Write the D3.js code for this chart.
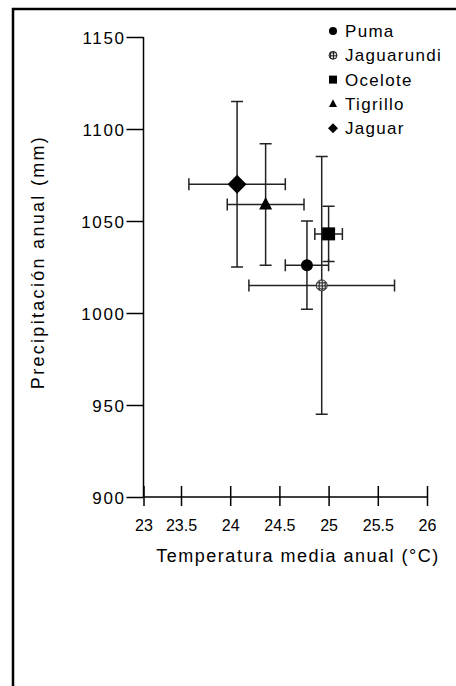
<!DOCTYPE html>
<html>
<meta charset="utf-8">
<head>
    <title>Temperatura vs precipitación</title>
</head>
<style>
    body { margin: 0; background: #fff; }
    text { font-family: "Liberation Sans", Arial, sans-serif; fill: #000; }
</style>
<script src="https://d3js.org/d3.v7.min.js"></script>
<body>
<div id="chart"></div>
<script>

// species and their values
var species = ["Puma", "Jaguarundi", "Ocelote", "Tigrillo", "Jaguar"]
var temp    = [24.78, 24.93, 25.00, 24.36, 24.07]
var tempErr = [0.22, 0.74, 0.14, 0.39, 0.49]
var prec    = [1026, 1015, 1043, 1059, 1070]
var precErr = [24, 70, 15, 33, 45]
var symbols = ["circle", "hatch", "square", "triangle", "diamond"]

var xTicks = [23, 23.5, 24, 24.5, 25, 25.5, 26]
var yTicks = [900, 950, 1000, 1050, 1100, 1150]

var W = 456, H = 686

var svg = d3.select("#chart")
  .append("svg")
  .attr("width", W)
  .attr("height", H)

// pattern for jaguarundi marker
var pat = svg.append("defs").append("pattern")
  .attr("id", "hatch")
  .attr("patternUnits", "userSpaceOnUse")
  .attr("width", 3).attr("height", 3)
pat.append("rect").attr("width", 3).attr("height", 3).attr("fill", "#ddd")
pat.append("path").attr("d", "M0,0.5H3M0.5,0V3")
  .attr("stroke", "#222").attr("stroke-width", 1)

// outer frame
svg.append("rect")
  .attr("x", 13).attr("y", 9)
  .attr("width", 520).attr("height", 720)
  .attr("fill", "none")
  .attr("stroke", "#000")
  .attr("stroke-width", 2.5)

// scales (the original x axis has a short first interval)
var x = d3.scaleLinear()
  .domain([23, 23.5, 26])
  .range([143.5, 181, 427])

var y = d3.scaleLinear()
  .domain([900, 1150])
  .range([497, 37])

// y axis
var yAxis = svg.append("g")
  .attr("transform", "translate(143.5,0)")
  .call(d3.axisLeft(y).tickValues(yTicks).tickSize(17).tickPadding(1).tickFormat(d3.format("d")))
yAxis.select(".domain").attr("stroke-width", 1.5).attr("d", "M0," + y(1150) + "V" + y(900))
yAxis.selectAll(".tick line").attr("stroke-width", 1.5)
yAxis.selectAll(".tick text")
  .style("font-size", "17px")
  .style("letter-spacing", "1.6px")
  .attr("dy", "0.36em")

// x axis (ticks cross the line)
var xAxis = svg.append("g")
  .attr("transform", "translate(0,497)")
  .call(d3.axisBottom(x).tickValues(xTicks).tickSize(9).tickPadding(14).tickFormat(d3.format("")))
xAxis.select(".domain").attr("stroke-width", 1.5).attr("d", "M" + x(23) + ",0H" + x(26))
xAxis.selectAll(".tick line").attr("y1", -11).attr("stroke-width", 1.5)
xAxis.selectAll(".tick text").style("font-size", "16px")

// axis titles
svg.append("text")
  .attr("x", 298).attr("y", 562)
  .attr("text-anchor", "middle")
  .style("font-size", "18px")
  .style("letter-spacing", "1.5px")
  .text("Temperatura media anual (°C)")

svg.append("text")
  .attr("transform", "translate(44,262) rotate(-90)")
  .attr("text-anchor", "middle")
  .style("font-size", "18px")
  .style("letter-spacing", "2.3px")
  .text("Precipitación anual (mm)")

var data = species.map(function(s, i) {
  return {name: s, t: temp[i], te: tempErr[i], p: prec[i], pe: precErr[i], sym: symbols[i]}
})

// error bars
var cap = 6
var bars = svg.append("g").attr("stroke", "#222").attr("stroke-width", 1.5).attr("fill", "none")
data.forEach(function(d) {
  var cx = x(d.t), cy = y(d.p)
  var x0 = x(d.t - d.te), x1 = x(d.t + d.te)
  var y0 = y(d.p - d.pe), y1 = y(d.p + d.pe)
  bars.append("path").attr("d",
    "M" + x0 + "," + cy + "H" + x1 +
    "M" + x0 + "," + (cy - cap) + "V" + (cy + cap) +
    "M" + x1 + "," + (cy - cap) + "V" + (cy + cap) +
    "M" + cx + "," + y0 + "V" + y1 +
    "M" + (cx - cap) + "," + y0 + "H" + (cx + cap) +
    "M" + (cx - cap) + "," + y1 + "H" + (cx + cap))
})

// markers
function marker(g, sym, size) {
  if (sym == "circle") {
    g.append("circle").attr("r", size / 2).attr("fill", "#000")
  } else if (sym == "hatch") {
    g.append("circle").attr("r", size / 2).attr("fill", "url(#hatch)").attr("stroke", "#333").attr("stroke-width", 1)
  } else if (sym == "square") {
    g.append("rect").attr("x", -size / 2).attr("y", -size / 2).attr("width", size).attr("height", size).attr("fill", "#000")
  } else if (sym == "triangle") {
    var h = size * 0.95
    g.append("path").attr("d", "M0," + (-h * 0.6) + "L" + (size / 2) + "," + (h * 0.4) + "L" + (-size / 2) + "," + (h * 0.4) + "Z").attr("fill", "#000")
  } else if (sym == "diamond") {
    g.append("path").attr("d", "M0," + (-size / 2) + "L" + (size / 2) + ",0L0," + (size / 2) + "L" + (-size / 2) + ",0Z").attr("fill", "#000")
  }
}

var sizes = {circle: 12, hatch: 11, square: 13, triangle: 13, diamond: 19}
data.forEach(function(d) {
  var g = svg.append("g").attr("transform", "translate(" + x(d.t) + "," + y(d.p) + ")")
  marker(g, d.sym, sizes[d.sym])
})

// legend
var legend = svg.append("g").attr("transform", "translate(333,31)")
data.forEach(function(d, i) {
  var row = legend.append("g").attr("transform", "translate(0," + (i * 24.3) + ")")
  marker(row, d.sym, d.sym == "diamond" ? 10 : 8)
  row.append("text")
    .attr("x", 12).attr("y", 6)
    .style("font-size", "17px")
    .style("letter-spacing", "1.3px")
    .text(d.name)
})

</script>
</body>
</html>
